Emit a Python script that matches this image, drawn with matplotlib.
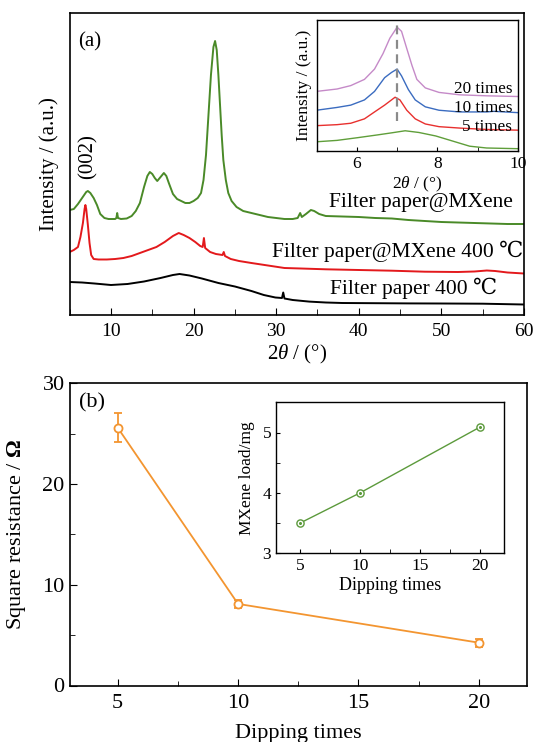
import matplotlib
matplotlib.use("Agg")
import matplotlib.pyplot as plt
from matplotlib.ticker import MultipleLocator, NullLocator

plt.rcParams['font.family'] = ['Liberation Serif', 'DejaVu Serif', 'DejaVu Sans']
plt.rcParams['mathtext.fontset'] = 'custom'
plt.rcParams['mathtext.rm'] = 'Liberation Serif'
plt.rcParams['mathtext.it'] = 'Liberation Serif:italic'
plt.rcParams['mathtext.bf'] = 'Liberation Serif:bold'

# ---------------- data: panel (a) XRD ----------------
green_x = [5.0, 5.5, 6.0, 6.5, 7.0, 7.2, 7.5, 7.9, 8.3, 8.7, 9.2, 9.7, 10.5, 10.65, 10.75, 10.85,
           11.2, 11.9, 12.5, 13.0, 13.5, 14.0, 14.4, 14.7, 15.0, 15.3, 15.6, 16.0, 16.4, 16.7,
           17.0, 17.5, 18.0, 18.5, 19.0, 19.5, 20.0, 20.5, 20.9, 21.2, 21.5, 21.8, 22.1, 22.4,
           22.6, 22.8, 23.0, 23.2, 23.4, 23.6, 23.9, 24.2, 24.6, 25.2, 26.0, 27.0, 28.0, 29.0,
           30.0, 31.0, 32.0, 32.6, 32.9, 33.1, 33.6, 34.2, 34.6, 35.2, 36.0, 38.0, 40.0, 42.0,
           44.0, 46.0, 48.0, 50.0, 52.0, 54.0, 56.0, 58.0, 60.0]
green_y = [105, 106, 111, 117, 123, 124, 122, 117, 110, 101, 97, 96, 96, 97, 102, 97,
           96, 96.5, 99, 104, 112, 128, 139, 143, 141, 137, 134, 138, 142, 139,
           132, 121, 116, 114, 112, 112, 114, 117, 122, 135, 160, 200, 240, 268,
           274, 265, 240, 210, 180, 155, 135, 122, 114, 108, 104, 102, 100, 98,
           97, 96, 96, 97, 102, 98, 101, 105, 104, 101, 99, 98.5, 98, 97,
           96.5, 95, 94, 93, 92.5, 92, 91.5, 91, 91]

red_x = [5.0, 5.5, 6.0, 6.3, 6.6, 6.8, 6.9, 7.0, 7.2, 7.4, 7.6, 7.9, 8.5, 9.5, 10.5, 11.5,
         12.5, 13.5, 14.5, 15.5, 16.5, 17.5, 18.2, 18.8, 19.5, 20.2, 20.8, 21.1, 21.25, 21.4,
         22.0, 22.7, 23.5, 23.65, 23.8, 24.5, 25.5, 27.0, 29.0, 31.0, 33.0, 36.0, 40.0, 44.0,
         48.0, 52.0, 54.0, 55.5, 56.5, 58.0, 60.0]
red_y = [63, 65, 68, 78, 92, 106, 110, 106, 90, 72, 60, 56, 55.5, 55.5, 56, 57,
         59, 62, 65, 68, 73, 79, 82, 80, 77, 73, 69, 68, 77, 67,
         63, 61, 60, 63, 59, 56, 54, 52, 49.5, 47, 46.5, 45.7, 45, 44.3,
         43.3, 43, 43.5, 44.5, 44, 42.5, 41.5]

black_x = [5.0, 6.5, 8.0, 10.0, 12.0, 14.0, 16.0, 17.5, 18.3, 19.5, 21.0, 23.0, 25.0, 27.0,
           28.5, 29.9, 30.7, 30.85, 31.0, 32.0, 34.0, 36.0, 38.0, 42.0, 46.0, 50.0, 55.0, 60.0]
black_y = [33, 32.5, 31.5, 30, 31, 33.5, 37, 40, 41, 39.5, 36.5, 32, 28.5, 24,
           20, 17.5, 17, 22.5, 16.5, 15, 13.4, 12.5, 12, 11.8, 11.6, 11.5, 11.3, 10.5]

# inset (a): (002) region
ins_x = [5.0, 5.51, 5.85, 6.19, 6.44, 6.65, 6.82, 7.0, 7.11, 7.24, 7.37, 7.49, 7.7, 8.04, 8.55, 9.22, 10.0]
pink_y = [59.2, 61.6, 65, 71.2, 81.5, 96.9, 112.3, 123.3, 119.2, 102, 85, 71.2, 62.7, 58.2, 55.8, 54.8, 54.1]
blue_x = [5.0, 5.51, 5.85, 6.19, 6.44, 6.69, 6.86, 7.0, 7.11, 7.28, 7.45, 7.7, 8.04, 8.55, 9.22, 9.4, 10.0]
blue_y = [40.4, 43.2, 45.5, 50.7, 59.2, 72.9, 78.1, 81.5, 74.7, 61, 50.7, 43.8, 40.4, 38.7, 38.7, 39.3, 38]
red5_x = [5.0, 5.51, 5.85, 6.19, 6.44, 6.69, 6.95, 7.07, 7.24, 7.45, 7.7, 8.04, 8.55, 9.22, 10.0]
red5_y = [25, 26, 27.4, 31.8, 38.7, 45.5, 53.4, 50.7, 40.4, 31.8, 26.7, 24, 22.6, 21.2, 20.5]
grn0_x = [5.0, 5.51, 6.02, 6.52, 6.86, 7.2, 7.54, 7.96, 8.38, 8.8, 9.22, 10.0]
grn0_y = [8.9, 10.3, 13, 15.8, 17.8, 19.9, 18.2, 14.7, 9.6, 4.5, 2.7, 2.0]

# ---------------- data: panel (b) ----------------
dip = [5, 10, 20]
resist = [25.6, 8.1, 4.25]
resist_err = [1.45, 0.4, 0.4]
load = [3.5, 4.0, 5.09]

W, H = 539, 742
fig = plt.figure(figsize=(W / 100, H / 100), dpi=100)


def rect(x0, y0, x1, y1):
    return [x0 / W, 1 - y1 / H, (x1 - x0) / W, (y1 - y0) / H]


C_GREEN = '#4a8a28'
C_RED = '#e3191c'
C_ORANGE = '#f39530'

# ---------- panel (a) ----------
ax1 = fig.add_axes(rect(69.7, 13, 524, 315))
ax1.plot(green_x, green_y, color=C_GREEN, lw=1.4)
ax1.plot(red_x, red_y, color=C_RED, lw=1.4)
ax1.plot(black_x, black_y, color='black', lw=1.4)
ax1.set_xlim(5, 60)
ax1.set_ylim(0, 302)
ax1.xaxis.set_major_locator(MultipleLocator(10))
ax1.xaxis.set_minor_locator(MultipleLocator(5))
ax1.yaxis.set_major_locator(NullLocator())
ax1.tick_params(axis='x', which='both', direction='in', labelsize=14, pad=6)
ax1.tick_params(axis='x', which='major', length=5)
ax1.tick_params(axis='x', which='minor', length=4)
for s in ax1.spines.values():
    s.set_linewidth(1.2)
ax1.set_xlabel('2$\\theta$ / (°)', fontsize=15, labelpad=2)
ax1.set_ylabel('Intensity / (a.u.)', fontsize=15, labelpad=8)
ax1.text(6.0, 273, '(a)', fontsize=15, ha='left', va='center')
ax1.text(7.2, 158, '(002)', fontsize=15, ha='center', va='center', rotation=90)
ax1.text(58.7, 112, 'Filter paper@MXene', fontsize=15.5, ha='right', va='center')
ax1.text(59.95, 63.5, 'Filter paper@MXene 400 ℃', fontsize=15.5, ha='right', va='center')
ax1.text(56.7, 27, 'Filter paper 400 ℃', fontsize=15.5, ha='right', va='center')

# inset (a)
ax1i = fig.add_axes(rect(316.5, 19.5, 518, 150.7))
ax1i.plot(ins_x, pink_y, color='#c58ac8', lw=1.0)
ax1i.plot(blue_x, blue_y, color='#3b6cc0', lw=1.0)
ax1i.plot(red5_x, red5_y, color='#e8302e', lw=1.0)
ax1i.plot(grn0_x, grn0_y, color='#5f9e3a', lw=1.0)
ax1i.vlines(7.0, 30, 129, colors='#8a8a8a', linestyles=(0, (4, 2.5)), lw=1.6)
ax1i.set_xlim(5, 10)
ax1i.set_ylim(0, 131)
ax1i.xaxis.set_major_locator(MultipleLocator(2))
ax1i.xaxis.set_minor_locator(MultipleLocator(1))
ax1i.yaxis.set_major_locator(NullLocator())
ax1i.tick_params(axis='x', which='both', direction='in', labelsize=12.5, pad=4, length=3)
for s in ax1i.spines.values():
    s.set_linewidth(1.0)
ax1i.set_xlabel('2$\\theta$ / (°)', fontsize=12.5, labelpad=2)
ax1i.set_ylabel('Intensity / (a.u.)', fontsize=12.5, labelpad=3)
ax1i.text(9.86, 61.7, '20 times', fontsize=12.3, ha='right', va='center')
ax1i.text(9.86, 42.7, '10 times', fontsize=12.3, ha='right', va='center')
ax1i.text(9.86, 23.7, '5 times', fontsize=12.3, ha='right', va='center')

# ---------- panel (b) ----------
ax2 = fig.add_axes(rect(69.5, 383.3, 527, 685.5))
ax2.errorbar(dip, resist, yerr=resist_err, color=C_ORANGE, lw=1.3, capsize=2.8,
             elinewidth=1.3, capthick=1.3, marker='o', ms=5.8, mfc='white', mec=C_ORANGE, mew=1.3)
ax2.plot(dip, resist, ls='none', marker='o', ms=1.5, color=C_ORANGE)
ax2.set_xlim(3, 22)
ax2.set_ylim(0, 30)
ax2.xaxis.set_major_locator(MultipleLocator(5))
ax2.xaxis.set_minor_locator(MultipleLocator(2.5))
ax2.yaxis.set_major_locator(MultipleLocator(10))
ax2.yaxis.set_minor_locator(MultipleLocator(5))
ax2.tick_params(which='both', direction='in', labelsize=16)
ax2.tick_params(which='major', length=5)
ax2.tick_params(which='minor', length=3.5)
ax2.tick_params(axis='x', pad=6)
for s in ax2.spines.values():
    s.set_linewidth(1.2)
ax2.set_xlabel('Dipping times', fontsize=16, labelpad=8)
ax2.set_ylabel('Square resistance / $\\mathbf{\\Omega}$', fontsize=16, labelpad=10)
ax2.text(0.02, 0.935, '(b)', fontsize=16, ha='left', va='center', transform=ax2.transAxes)

# inset (b)
ax2i = fig.add_axes(rect(276, 402.3, 504, 553.3))
ax2i.plot(dip, load, color='#5c9a3c', lw=1.0, marker='o', ms=5.2, mfc='white', mec='#5c9a3c', mew=1.0)
ax2i.plot(dip, load, ls='none', marker='o', ms=1.2, color='#5c9a3c')
ax2i.set_xlim(3, 22)
ax2i.set_ylim(3, 5.5)
ax2i.xaxis.set_major_locator(MultipleLocator(5))
ax2i.xaxis.set_minor_locator(MultipleLocator(2.5))
ax2i.yaxis.set_major_locator(MultipleLocator(1))
ax2i.yaxis.set_minor_locator(MultipleLocator(0.5))
ax2i.tick_params(which='both', direction='in', labelsize=12.5, length=3)
for s in ax2i.spines.values():
    s.set_linewidth(1.0)
ax2i.set_xlabel('Dipping times', fontsize=13, labelpad=2)
ax2i.set_ylabel('MXene load/mg', fontsize=12.5, labelpad=5)

fig.savefig('out.png', dpi=100)
